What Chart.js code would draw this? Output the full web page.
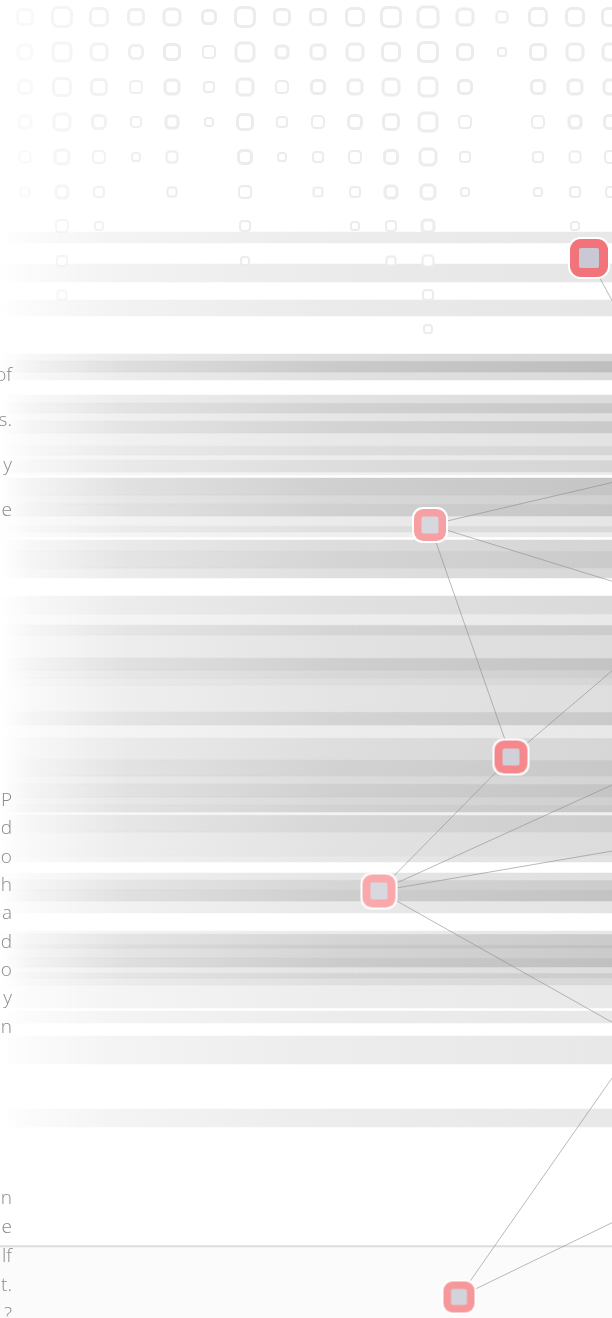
<!DOCTYPE html>
<html>
<head>
<meta charset="utf-8">
<script src="https://cdn.jsdelivr.net/npm/chart.js@4.4.1/dist/chart.umd.min.js"></script>
<style>
  html, body { margin: 0; padding: 0; background: #fff; }
  #wrap { position: relative; width: 612px; height: 1318px; overflow: hidden; }
  #wrap canvas { position: absolute; left: 0; top: 0; }
  .ln { position: absolute; right: 600px; white-space: nowrap; font-family: "Open Sans", sans-serif;
        font-weight: 300; font-size: 19px; line-height: 19px; color: #8a8a8a; }
</style>
</head>
<body>
<div id="wrap"><canvas id="net"></canvas></div>
<script>
'use strict';

//dot grid at the top (0 = no square)
const gridCols = [25, 62, 99, 136, 172, 209, 245, 282, 318, 355, 391, 428, 465, 502, 538, 575, 611];
const gridRows = [17, 52, 87, 122, 157, 192, 226, 261, 295, 329];
const gridSizes = [
  [18, 22, 20, 18, 19, 16, 22, 18, 18, 20, 22, 23, 19, 13, 20, 20, 20],
  [17, 21, 19, 16, 18, 14, 21, 15, 17, 19, 20, 22, 18, 10, 18, 19, 19],
  [16, 20, 18, 14, 17, 12, 19, 14, 16, 17, 19, 21, 16, 0, 16, 17, 17],
  [15, 19, 16, 12, 15, 10, 18, 12, 14, 16, 18, 21, 14, 0, 14, 15, 16],
  [13, 17, 14, 10, 13, 0, 16, 10, 12, 14, 16, 19, 12, 0, 12, 13, 14],
  [11, 15, 12, 0, 11, 0, 14, 0, 11, 12, 15, 17, 10, 0, 10, 12, 12],
  [0, 14, 10, 0, 0, 0, 12, 0, 0, 10, 12, 15, 0, 0, 0, 10, 0],
  [0, 12, 0, 0, 0, 0, 10, 0, 0, 0, 11, 13, 0, 0, 0, 0, 0],
  [0, 11, 0, 0, 0, 0, 0, 0, 0, 0, 0, 12, 0, 0, 0, 0, 0],
  [0, 0, 0, 0, 0, 0, 0, 0, 0, 0, 0, 10, 0, 0, 0, 0, 0]
];
const gridFade = [0.3, 0.5, 0.7, 0.85, 1, 1, 1, 1, 1, 1, 1, 1, 1, 1, 1, 1, 1];

//grey stripes: top, bottom, grey level
const bandTop =    [232, 264, 300, 354, 361, 372, 395, 403, 413, 421, 433, 446, 455, 460, 472, 478, 495, 504, 516, 526, 532,
                    540, 551, 568, 596, 614, 625, 635, 658, 670, 678, 685, 712, 725, 738, 760, 776, 784, 797, 805, 812,
                    815, 832, 856, 873, 880, 890, 901, 931, 934, 945, 948, 958, 967, 973, 978, 985, 1011, 1036, 1109];
const bandBottom = [243, 282, 316, 361, 372, 380, 403, 413, 421, 433, 446, 455, 460, 472, 475, 495, 504, 516, 526, 532, 537,
                    551, 568, 578, 614, 625, 635, 658, 670, 678, 685, 712, 725, 738, 760, 776, 784, 797, 805, 812, 815,
                    832, 856, 862, 880, 890, 901, 913, 934, 945, 948, 958, 967, 973, 978, 985, 1008, 1023, 1064, 1127];
const bandShade =  [232, 230, 230, 216, 190, 218, 220, 200, 224, 202, 227, 214, 232, 213, 236, 197, 208, 198, 230, 216, 235,
                    213, 203, 216, 218, 233, 204, 220, 196, 207, 214, 222, 202, 232, 214, 200, 212, 197, 208, 200, 240,
                    206, 220, 226, 224, 204, 195, 228, 230, 203, 192, 203, 192, 221, 204, 216, 233, 232, 232, 232];

//floor at the bottom
const floorTop = [1245.5, 1247];
const floorBottom = [1247, 1318];
const floorColor = ['#dcdcdc', '#fbfbfb'];

//nodes, the last ones sit past the right edge
const nodeX = [589, 430, 511, 379, 459, 655, 700, 689, 700, 700, 640, 700];
const nodeY = [258, 525, 757, 891, 1297, 380, 462, 605, 745, 836, 1038, 1180];
const nodeSize = [42, 36, 37, 37, 35, 36, 36, 36, 36, 36, 36, 36];
const nodePink = ['#f3737a', '#f7a0a3', '#f5888c', '#f9a8ab', '#f69799', '#f58a8d', '#f58a8d', '#f58a8d', '#f58a8d', '#f58a8d', '#f58a8d', '#f58a8d'];
const nodeCore = ['#c9c9d3', '#d7d7de', '#cfd0d8', '#d8d8df', '#d2d3db', '#d0d0d8', '#d0d0d8', '#d0d0d8', '#d0d0d8', '#d0d0d8', '#d0d0d8', '#d0d0d8'];
const edges = [[0, 5], [1, 6], [1, 7], [1, 2], [2, 7], [2, 3], [3, 8], [3, 9], [3, 10], [4, 10], [4, 11]];

//word endings peeking in on the left
const textTop = ['of', 's.', 'y', 'e'];
const textMid = ['P', 'd', 'o', 'h', 'a', 'd', 'o', 'y', 'n'];
const textEnd = ['n', 'e', 'lf', 't.', '?'];

//----------------

function roundRect(g, x, y, w, h, r) {
  g.beginPath();
  g.moveTo(x + r, y);
  g.arcTo(x + w, y, x + w, y + h, r);
  g.arcTo(x + w, y + h, x, y + h, r);
  g.arcTo(x, y + h, x, y, r);
  g.arcTo(x, y, x + w, y, r);
  g.closePath();
}

function dotImage(size, alpha) {
  const c = document.createElement('canvas');
  c.width = c.height = size + 2;
  const g = c.getContext('2d');
  const lw = size >= 15 ? 3 : 2;
  roundRect(g, 1 + lw / 2, 1 + lw / 2, size - lw, size - lw, size * 0.26);
  g.fillStyle = '#fff';
  g.fill();
  g.strokeStyle = `rgba(236,236,236,${alpha})`;
  g.lineWidth = lw;
  g.stroke();
  return c;
}

function nodeImage(size, pink, core) {
  const c = document.createElement('canvas');
  c.width = c.height = size + 2;
  const g = c.getContext('2d');
  roundRect(g, 1, 1, size, size, size * 0.3);
  g.fillStyle = '#fff';
  g.fill();
  roundRect(g, 3, 3, size - 4, size - 4, size * 0.26);
  g.fillStyle = pink;
  g.fill();
  const s = Math.round(size * 0.47);
  const p = 1 + (size - s) / 2;
  roundRect(g, p, p, s, s, 2);
  g.fillStyle = core;
  g.fill();
  return c;
}

function fade(chart, shade) {
  const grad = chart.ctx.createLinearGradient(0, 0, chart.width, 0);
  const c = `${shade},${shade},${shade}`;
  grad.addColorStop(0, `rgba(${c},0)`);
  grad.addColorStop(0.05, `rgba(${c},0.18)`);
  grad.addColorStop(0.2, `rgba(${c},0.5)`);
  grad.addColorStop(0.55, `rgba(${c},0.82)`);
  grad.addColorStop(1, `rgba(${c},1)`);
  return grad;
}

const datasets = [];

bandTop.forEach((top, i) => {
  datasets.push({
    type: 'bar', xAxisID: 'xb', yAxisID: 'y', order: 10, grouped: false,
    data: [[top, bandBottom[i]]],
    backgroundColor: (ctx) => fade(ctx.chart, bandShade[i]),
    borderWidth: 0, barPercentage: 1, categoryPercentage: 1
  });
});

floorTop.forEach((top, i) => {
  datasets.push({
    type: 'bar', xAxisID: 'xb', yAxisID: 'y', order: 9, grouped: false,
    data: [[top, floorBottom[i]]],
    backgroundColor: floorColor[i],
    borderWidth: 0, barPercentage: 1, categoryPercentage: 1
  });
});

const gridPoints = [];
const gridImages = [];
gridRows.forEach((y, r) => {
  gridCols.forEach((x, c) => {
    const s = gridSizes[r][c];
    if (s > 0) {
      gridPoints.push({x, y});
      gridImages.push(dotImage(s, gridFade[c]));
    }
  });
});
datasets.push({
  type: 'scatter', xAxisID: 'x', yAxisID: 'y', order: 5,
  data: gridPoints, pointStyle: gridImages, pointRadius: 10
});

edges.forEach(([a, b]) => {
  datasets.push({
    type: 'line', xAxisID: 'x', yAxisID: 'y', order: 2,
    data: [{x: nodeX[a], y: nodeY[a]}, {x: nodeX[b], y: nodeY[b]}],
    borderColor: 'rgba(140,140,140,0.6)', borderWidth: 1, pointRadius: 0, fill: false
  });
});

datasets.push({
  type: 'scatter', xAxisID: 'x', yAxisID: 'y', order: 0,
  data: nodeX.map((x, i) => ({x, y: nodeY[i]})),
  pointStyle: nodeX.map((x, i) => nodeImage(nodeSize[i], nodePink[i], nodeCore[i])),
  pointRadius: 18
});

const wrap = document.getElementById('wrap');
new Chart(document.getElementById('net'), {
  type: 'bar',
  data: {labels: ['band'], datasets},
  options: {
    responsive: true,
    maintainAspectRatio: false,
    animation: false,
    events: [],
    layout: {padding: 0, autoPadding: false},
    plugins: {legend: {display: false}, tooltip: {enabled: false}},
    scales: {
      x: {type: 'linear', min: 0, max: 612, offset: false, display: false},
      xb: {type: 'category', labels: ['band'], offset: true, display: false},
      y: {type: 'linear', min: 0, max: 1318, reverse: true, offset: false, display: false}
    }
  }
});

//text lines, baseline of first line and line step
function addLines(words, firstBaseline, step) {
  words.forEach((w, i) => {
    const d = document.createElement('div');
    d.className = 'ln';
    d.textContent = w;
    d.style.top = (firstBaseline + step * i - 16.9) + 'px';
    wrap.appendChild(d);
  });
}
addLines(textTop, 382, 45);
addLines(textMid, 807, 28.3);
addLines(textEnd, 1205, 29);
</script>
</body>
</html>
